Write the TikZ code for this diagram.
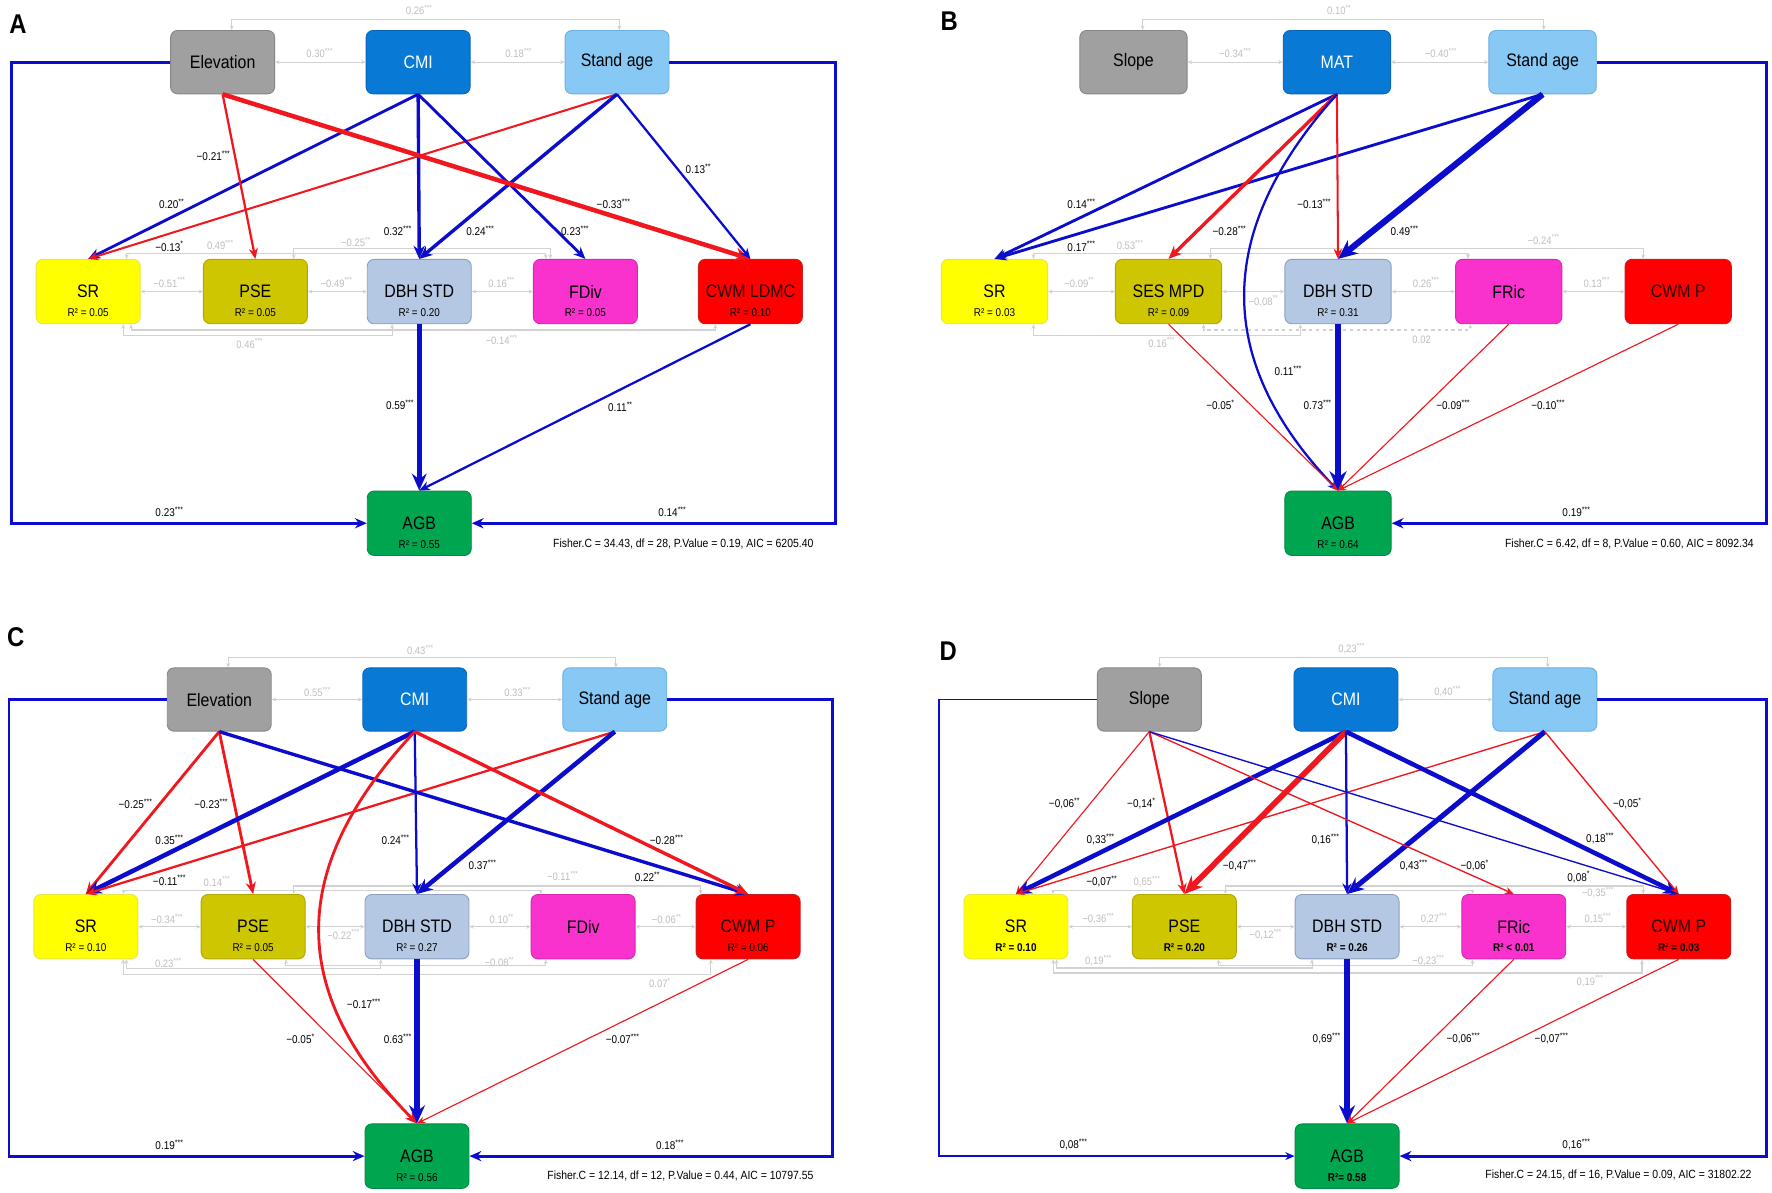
\documentclass[tikz,border=0pt]{standalone}
\usepackage{fontspec}
\setmainfont[FakeStretch=0.88]{Liberation Sans}
\usetikzlibrary{arrows.meta}
\definecolor{pblue}{RGB}{12,12,205}
\definecolor{nred}{RGB}{240,24,30}
\definecolor{lgl}{RGB}{210,210,210}
\definecolor{lgt}{RGB}{190,190,190}
\definecolor{celev}{RGB}{160,160,160}\definecolor{celevd}{RGB}{135,135,135}
\definecolor{ccmi}{RGB}{8,122,214}\definecolor{ccmid}{RGB}{10,100,185}
\definecolor{cage}{RGB}{135,200,245}\definecolor{caged}{RGB}{110,175,225}
\definecolor{csr}{RGB}{255,255,0}\definecolor{csrd}{RGB}{230,230,70}
\definecolor{cpse}{RGB}{206,198,0}\definecolor{cpsed}{RGB}{175,168,0}
\definecolor{cdbh}{RGB}{180,200,228}\definecolor{cdbhd}{RGB}{140,160,190}
\definecolor{cfd}{RGB}{250,50,205}\definecolor{cfdd}{RGB}{215,40,175}
\definecolor{ccwm}{RGB}{255,0,0}\definecolor{ccwmd}{RGB}{200,30,30}
\definecolor{cwmtext}{RGB}{40,0,0}
\definecolor{cagb}{RGB}{0,165,80}\definecolor{cagbd}{RGB}{0,140,70}
\newcommand\sg[1]{\textsuperscript{#1}}
\newcommand\fnm{\fontsize{16}{18}\selectfont}
\newcommand\frs{\fontsize{10}{11}\selectfont}
\newcommand\fcf{\fontsize{10}{11}\selectfont}
\newcommand\fgl{\fontsize{9.5}{10}\selectfont}
\newcommand\ffi{\fontsize{10.5}{11}\selectfont}
\begin{document}
\begin{tikzpicture}[x=1pt,y=-1pt,
 box/.style={rectangle, rounded corners=6pt, minimum width=92pt, minimum height=56pt, inner sep=0pt, font=\fnm, line width=0.8pt},
 mbox/.style={box, minimum height=57pt},
 elev/.style={fill=celev, draw=celevd},
 cmi/.style={fill=ccmi, draw=ccmid, text=white},
 age/.style={fill=cage, draw=caged},
 srb/.style={fill=csr, draw=csrd},
 pseb/.style={fill=cpse, draw=cpsed},
 dbhb/.style={fill=cdbh, draw=cdbhd},
 fdb/.style={fill=cfd, draw=cfdd},
 cwmb/.style={fill=ccwm, draw=ccwmd, text=cwmtext},
 agbb/.style={fill=cagb, draw=cagbd},
 rsq/.style={font=\frs, inner sep=0pt},
 rsqb/.style={font=\frs\bfseries, inner sep=0pt},
 coef/.style={font=\fcf, inner sep=0pt},
 gl/.style={font=\fgl, text=lgt, inner sep=0pt},
 posl/.style={draw=pblue, -{Stealth[length=5pt 2.2, width=4pt 2]}},
 negl/.style={draw=nred, -{Stealth[length=5pt 2.2, width=4pt 2]}},
 cor/.style={draw=lgl, line width=1pt, {Stealth[length=4pt,width=3.5pt]}-{Stealth[length=4pt,width=3.5pt]}},
 panel/.style={font=\fontsize{24}{26}\selectfont\bfseries, inner sep=0pt},
 fish/.style={font=\ffi, inner sep=0pt, anchor=east}
]
\fill[white] (0,0) rectangle (1568,1055);
\useasboundingbox (0,0) rectangle (1568,1055);

% ================= PANEL A =================
\node[panel] (pA) at (16,21) {A};
\node[box,elev] (aE) at (197,55) {Elevation};
\node[box,cmi] (aC) at (370,55) {CMI};
\node[box,age] (aS) at (546,55) {Stand age};
\node[mbox,srb] (aSR) at (78,258) {SR};
\node[mbox,pseb] (aP) at (226,258) {PSE};
\node[mbox,dbhb] (aD) at (371,258) {DBH STD};
\node[mbox,fdb] (aF) at (518,258) {FDiv};
\node[mbox,cwmb] (aW) at (664,258) {CWM LDMC};
\node[mbox,agbb] (aA) at (371,463) {AGB};
\node[rsq] (aSRr) at ([yshift=10pt]aSR.south) {R² = 0.05};
\node[rsq] (aPr) at ([yshift=10pt]aP.south) {R² = 0.05};
\node[rsq] (aDr) at ([yshift=10pt]aD.south) {R² = 0.20};
\node[rsq] (aFr) at ([yshift=10pt]aF.south) {R² = 0.05};
\node[rsq] (aWr) at ([yshift=10pt]aW.south) {R² = 0.10};
\node[rsq] (aAr) at ([yshift=10pt]aA.south) {R² = 0.55};

\draw[cor] (aE.east) -- (aC.west);
\draw[cor] (aC.east) -- (aS.west);
\draw[cor] ([xshift=8pt]aE.north) |- (370,17) -| ([xshift=2pt]aS.north);
\draw[cor] (aSR.east) -- (aP.west);
\draw[cor] (aP.east) -- (aD.west);
\draw[cor] (aD.east) -- (aF.west);
\draw[cor] ([xshift=34pt]aSR.north) |- (300,224) -| ([xshift=-35pt]aF.north);
\draw[cor] ([xshift=34pt]aP.north) |- (380,220) -| ([xshift=-31pt]aF.north);
\draw[cor] ([xshift=31pt]aSR.south) |- (220,297) -| ([xshift=-24pt]aD.south);
\draw[cor] ([xshift=38pt]aSR.south) |- (400,292) -| ([xshift=-31pt]aW.south);

\draw[posl, line width=2.5pt] (aC.south) -- (aSR.north);
\draw[negl, line width=1.8pt] (aS.south) -- (aSR.north);
\draw[negl, line width=2pt] (aE.south) -- (aP.north);
\draw[posl, line width=3pt] (aC.south) -- (aD.north);
\draw[posl, line width=3pt] (aS.south) -- (aD.north);
\draw[posl, line width=2.5pt] (aC.south) -- (aF.north);
\draw[negl, line width=4pt] (aE.south) -- (aW.north);
\draw[posl, line width=2pt] (aS.south) -- (aW.north);
\draw[posl, line width=4.5pt] (aD.south) -- (aA.north);
\draw[posl, line width=2pt] (aW.south) -- (aA.north);
\draw[posl, line width=2.5pt] (aE.west) -- (10,55) -- (10,463) -- (aA.west);
\draw[posl, line width=2.5pt] (aS.east) -- (739,55) -- (739,463) -- (aA.east);

\node[gl] (ag1) at (371,9) {0.26\sg{***}};
\node[gl] (ag2) at (283,47) {0.30\sg{***}};
\node[gl] (ag3) at (459,47) {0.18\sg{***}};
\node[gl] (ag4) at (150,250) {−0.51\sg{***}};
\node[gl] (ag5) at (298,250) {−0.49\sg{***}};
\node[gl] (ag6) at (444,250) {0.16\sg{***}};
\node[gl] (ag7) at (195,217) {0.49\sg{***}};
\node[gl] (ag8) at (315,214) {−0.25\sg{**}};
\node[gl] (ag9) at (221,304) {0.46\sg{***}};
\node[gl] (ag10) at (444,301) {−0.14\sg{***}};

\node[coef] (ac1) at (152,180) {0.20\sg{**}};
\node[coef] (ac2) at (150,218) {−0.13\sg{*}};
\node[coef] (ac3) at (189,138) {−0.21\sg{***}};
\node[coef] (ac4) at (352,204) {0.32\sg{***}};
\node[coef] (ac5) at (425,204) {0.24\sg{***}};
\node[coef] (ac6) at (509,204) {0.23\sg{***}};
\node[coef] (ac7) at (543,180) {−0.33\sg{***}};
\node[coef] (ac8) at (618,149) {0.13\sg{**}};
\node[coef] (ac9) at (354,358) {0.59\sg{***}};
\node[coef] (ac10) at (549,360) {0.11\sg{**}};
\node[coef] (ac11) at (150,453) {0.23\sg{***}};
\node[coef] (ac12) at (595,453) {0.14\sg{***}};
\node[fish] (aFi) at (720,481) {Fisher.C = 34.43, df = 28, P.Value = 0.19, AIC = 6205.40};

% ================= PANEL B =================
\node[panel] (pB) at (840,19) {B};
\node[box,elev,minimum width=95pt] (bS) at (1003,55) {Slope};
\node[box,cmi,minimum width=95pt] (bM) at (1183,55) {MAT};
\node[box,age,minimum width=95pt] (bA) at (1365,55) {Stand age};
\node[mbox,srb,minimum width=94pt] (bSR) at (880,258) {SR};
\node[mbox,pseb,minimum width=94pt] (bP) at (1034,258) {SES MPD};
\node[mbox,dbhb,minimum width=94pt] (bD) at (1184,258) {DBH STD};
\node[mbox,fdb,minimum width=94pt] (bF) at (1335,258) {FRic};
\node[mbox,cwmb,minimum width=94pt] (bW) at (1485,258) {CWM P};
\node[mbox,agbb,minimum width=94pt] (bG) at (1184,463) {AGB};
\node[rsq] (bSRr) at ([yshift=10pt]bSR.south) {R² = 0.03};
\node[rsq] (bPr) at ([yshift=10pt]bP.south) {R² = 0.09};
\node[rsq] (bDr) at ([yshift=10pt]bD.south) {R² = 0.31};
\node[rsq] (bGr) at ([yshift=10pt]bG.south) {R² = 0.64};

\draw[cor] (bS.east) -- (bM.west);
\draw[cor] (bM.east) -- (bA.west);
\draw[cor] ([xshift=8pt]bS.north) |- (1185,17) -| ([xshift=1pt]bA.north);
\draw[cor] (bSR.east) -- (bP.west);
\draw[cor] (bP.east) -- (bD.west);
\draw[cor] (bD.east) -- (bF.west);
\draw[cor] (bF.east) -- (bW.west);
\draw[cor] ([xshift=34.5pt]bSR.north) |- (1100,224) -| ([xshift=-36pt]bF.north);
\draw[cor] ([xshift=37pt]bP.north) |- (1250,220) -| ([xshift=-31pt]bW.north);
\draw[cor] ([xshift=34.5pt]bSR.south) |- (1030,296.5) -| ([xshift=-33.4pt]bD.south);
\draw[cor, dashed] ([xshift=31pt]bP.south) |- (1180,292) -| ([xshift=-34pt]bF.south);

\draw[posl, line width=2.5pt] (bM.south) -- (bSR.north);
\draw[posl, line width=2.5pt] (bA.south) -- (bSR.north);
\draw[negl, line width=3pt] (bM.south) -- (bP.north);
\draw[negl, line width=1.8pt] (bM.south) -- (bD.north);
\draw[posl, line width=5.5pt] (bA.south) -- (bD.north);
\draw[posl, line width=2pt] (bM.south) .. controls (1073,206) and (1075,320) .. (bG.north);
\draw[negl, line width=1pt] (bP.south) -- (bG.north);
\draw[posl, line width=5.5pt] (bD.south) -- (bG.north);
\draw[negl, line width=1pt] (bF.south) -- (bG.north);
\draw[negl, line width=1pt] (bW.south) -- (bG.north);
\draw[posl, line width=2.5pt] (bA.east) -- (1563,55) -- (1563,463) -- (bG.east);

\node[gl] (bg1) at (1185,9) {0.10\sg{**}};
\node[gl] (bg2) at (1093,47) {−0.34\sg{***}};
\node[gl] (bg3) at (1275,47) {−0.40\sg{***}};
\node[gl] (bg4) at (955,250) {−0.09\sg{**}};
\node[gl] (bg5) at (1118,266) {−0.08\sg{**}};
\node[gl] (bg6) at (1262,250) {0.26\sg{***}};
\node[gl] (bg7) at (1413,250) {0.13\sg{***}};
\node[gl] (bg8) at (1000,217) {0.53\sg{***}};
\node[gl] (bg9) at (1366,212) {−0.24\sg{***}};
\node[gl] (bg10) at (1028,303) {0.16\sg{***}};
\node[gl] (bg11) at (1258,301) {0.02};

\node[coef] (bc1) at (957,180) {0.14\sg{***}};
\node[coef] (bc2) at (957,218) {0.17\sg{***}};
\node[coef] (bc3) at (1088,204) {−0.28\sg{***}};
\node[coef] (bc4) at (1163,180) {−0.13\sg{***}};
\node[coef] (bc5) at (1243,204) {0.49\sg{***}};
\node[coef] (bc6) at (1140,328) {0.11\sg{***}};
\node[coef] (bc7) at (1080,358) {−0.05\sg{*}};
\node[coef] (bc8) at (1166,358) {0.73\sg{***}};
\node[coef] (bc9) at (1286,358) {−0.09\sg{***}};
\node[coef] (bc10) at (1370,358) {−0.10\sg{***}};
\node[coef] (bc11) at (1395,453) {0.19\sg{***}};
\node[fish] (bFi) at (1552,481) {Fisher.C = 6.42, df = 8, P.Value = 0.60, AIC = 8092.34};

% ================= PANEL C =================
\node[panel] (pC) at (14,564) {C};
\node[box,elev] (cE) at (194,619) {Elevation};
\node[box,cmi] (cC) at (367,619) {CMI};
\node[box,age] (cS) at (544,619) {Stand age};
\node[mbox,srb] (cSR) at (76,820) {SR};
\node[mbox,pseb] (cP) at (224,820) {PSE};
\node[mbox,dbhb] (cD) at (369,820) {DBH STD};
\node[mbox,fdb] (cF) at (516,820) {FDiv};
\node[mbox,cwmb] (cW) at (662,820) {CWM P};
\node[mbox,agbb] (cA) at (369,1023) {AGB};
\node[rsq] (cSRr) at ([yshift=10pt]cSR.south) {R² = 0.10};
\node[rsq] (cPr) at ([yshift=10pt]cP.south) {R² = 0.05};
\node[rsq] (cDr) at ([yshift=10pt]cD.south) {R² = 0.27};
\node[rsq] (cWr) at ([yshift=10pt]cW.south) {R² = 0.06};
\node[rsq] (cAr) at ([yshift=10pt]cA.south) {R² = 0.56};

\draw[cor] (cE.east) -- (cC.west);
\draw[cor] (cC.east) -- (cS.west);
\draw[cor] ([xshift=8pt]cE.north) |- (370,582) -| ([xshift=1pt]cS.north);
\draw[cor] (cSR.east) -- (cP.west);
\draw[cor] (cP.east) -- (cD.west);
\draw[cor] (cD.east) -- (cF.west);
\draw[cor] (cF.east) -- (cW.west);
\draw[cor] ([xshift=33.4pt]cSR.north) |- (300,787.6) -| ([xshift=-37.5pt]cF.north);
\draw[cor] ([xshift=36pt]cP.north) |- (450,784) -| ([xshift=-42pt]cW.north);
\draw[cor] ([xshift=36pt]cSR.south) |- (220,857) -| ([xshift=-32pt]cD.south);
\draw[cor] ([xshift=29pt]cP.south) |- (380,854) -| ([xshift=-33pt]cF.south);
\draw[cor] ([xshift=33pt]cSR.south) |- (400,862) -| ([xshift=-33pt]cW.south);

\draw[negl, line width=2.5pt] (cE.south) -- (cSR.north);
\draw[negl, line width=2.5pt] (cE.south) -- (cP.north);
\draw[posl, line width=4pt] (cC.south) -- (cSR.north);
\draw[negl, line width=2pt] (cS.south) -- (cSR.north);
\draw[posl, line width=2pt] (cC.south) -- (cD.north);
\draw[posl, line width=4pt] (cS.south) -- (cD.north);
\draw[posl, line width=3pt] (cE.south) -- (cW.north);
\draw[negl, line width=3pt] (cC.south) -- (cW.north);
\draw[negl, line width=2.5pt] (cC.south) .. controls (252,770) and (256,880) .. (cA.north);
\draw[negl, line width=1pt] (cP.south) -- (cA.north);
\draw[posl, line width=5pt] (cD.south) -- (cA.north);
\draw[negl, line width=1pt] (cW.south) -- (cA.north);
\draw[posl, line width=2.5pt] (cE.west) -- (8,619) -- (8,1023) -- (cA.west);
\draw[posl, line width=2.5pt] (cS.east) -- (737,619) -- (737,1023) -- (cA.east);

\node[gl] (cg1) at (372,575) {0.43\sg{***}};
\node[gl] (cg2) at (281,612) {0.55\sg{***}};
\node[gl] (cg3) at (458,612) {0.33\sg{***}};
\node[gl] (cg4) at (148,813) {−0.34\sg{***}};
\node[gl] (cg5) at (304,827) {−0.22\sg{***}};
\node[gl] (cg6) at (444,813) {0.10\sg{**}};
\node[gl] (cg7) at (590,813) {−0.06\sg{**}};
\node[gl] (cg8) at (192,780) {0.14\sg{***}};
\node[gl] (cg9) at (498,775) {−0.11\sg{***}};
\node[gl] (cg10) at (149,852) {0.23\sg{***}};
\node[gl] (cg11) at (442,851) {−0.08\sg{**}};
\node[gl] (cg12) at (584,870) {0.07\sg{*}};

\node[coef] (cc1) at (120,711) {−0.25\sg{***}};
\node[coef] (cc2) at (187,711) {−0.23\sg{***}};
\node[coef] (cc3) at (150,743) {0.35\sg{***}};
\node[coef] (cc4) at (150,779) {−0.11\sg{***}};
\node[coef] (cc5) at (350,743) {0.24\sg{***}};
\node[coef] (cc6) at (427,765) {0.37\sg{***}};
\node[coef] (cc7) at (573,776) {0.22\sg{**}};
\node[coef] (cc8) at (590,743) {−0.28\sg{***}};
\node[coef] (cc9) at (322,888) {−0.17\sg{***}};
\node[coef] (cc10) at (266,919) {−0.05\sg{*}};
\node[coef] (cc11) at (352,919) {0.63\sg{***}};
\node[coef] (cc12) at (551,919) {−0.07\sg{***}};
\node[coef] (cc13) at (150,1013) {0.19\sg{***}};
\node[coef] (cc14) at (593,1013) {0.18\sg{***}};
\node[fish] (cFi) at (720,1041) {Fisher.C = 12.14, df = 12, P.Value = 0.44, AIC = 10797.55};

% ================= PANEL D =================
\node[panel] (pD) at (839,576) {D};
\node[box,elev] (dS) at (1017,619) {Slope};
\node[box,cmi] (dC) at (1191,619) {CMI};
\node[box,age] (dA) at (1367,619) {Stand age};
\node[mbox,srb] (dSR) at (899,820) {SR};
\node[mbox,pseb] (dP) at (1048,820) {PSE};
\node[mbox,dbhb] (dD) at (1192,820) {DBH STD};
\node[mbox,fdb] (dF) at (1339.5,820) {FRic};
\node[mbox,cwmb] (dW) at (1485.5,820) {CWM P};
\node[mbox,agbb] (dG) at (1192,1023) {AGB};
\node[rsqb] (dSRr) at ([yshift=10pt]dSR.south) {R² = 0.10};
\node[rsqb] (dPr) at ([yshift=10pt]dP.south) {R² = 0.20};
\node[rsqb] (dDr) at ([yshift=10pt]dD.south) {R² = 0.26};
\node[rsqb] (dFr) at ([yshift=10pt]dF.south) {R² < 0.01};
\node[rsqb] (dWr) at ([yshift=10pt]dW.south) {R² = 0.03};
\node[rsqb] (dGr) at ([yshift=10pt]dG.south) {R²= 0.58};

\draw[cor] (dC.east) -- (dA.west);
\draw[cor] ([xshift=9pt]dS.north) |- (1195,582) -| ([xshift=2.5pt]dA.north);
\draw[cor] (dSR.east) -- (dP.west);
\draw[cor] (dP.east) -- (dD.west);
\draw[cor] (dD.east) -- (dF.west);
\draw[cor] (dF.east) -- (dW.west);
\draw[cor] ([xshift=32.7pt]dSR.north) |- (1100,787.6) -| ([xshift=-36.5pt]dF.north);
\draw[cor] ([xshift=36.4pt]dP.north) |- (1250,784) -| ([xshift=-31.5pt]dW.north);
\draw[cor] ([xshift=36pt]dSR.south) |- (1050,856.6) -| ([xshift=-31pt]dD.south);
\draw[cor] ([xshift=30.4pt]dP.south) |- (1200,854) -| ([xshift=-36.5pt]dF.south);
\draw[cor] ([xshift=33pt]dSR.south) |- (1200,861) -| ([xshift=-32.5pt]dW.south);

\draw[negl, line width=1pt] (dS.south) -- (dSR.north);
\draw[negl, line width=2pt] (dS.south) -- (dP.north);
\draw[posl, line width=4pt] (dC.south) -- (dSR.north);
\draw[negl, line width=1.2pt] (dA.south) -- (dSR.north);
\draw[negl, line width=5pt] (dC.south) -- (dP.north);
\draw[posl, line width=2pt] (dC.south) -- (dD.north);
\draw[posl, line width=4.5pt] (dA.south) -- (dD.north);
\draw[negl, line width=1.2pt] (dS.south) -- (dF.north);
\draw[posl, line width=1.2pt] (dS.south) -- (dW.north);
\draw[posl, line width=4pt] (dC.south) -- (dW.north);
\draw[negl, line width=1.2pt] (dA.south) -- (dW.north);
\draw[posl, line width=5pt] (dD.south) -- (dG.north);
\draw[negl, line width=1pt] (dF.south) -- (dG.north);
\draw[negl, line width=1pt] (dW.south) -- (dG.north);
\draw[posl, line width=1.5pt] (dS.west) -- (831,619) -- (831,1023) -- (dG.west);
\draw[posl, line width=2.5pt] (dA.east) -- (1563,619) -- (1563,1023) -- (dG.east);

\node[gl] (dg1) at (1196,574) {0,23\sg{***}};
\node[gl] (dg2) at (1281,612) {0,40\sg{***}};
\node[gl] (dg3) at (972,813) {−0,36\sg{***}};
\node[gl] (dg4) at (1120,827) {−0,12\sg{***}};
\node[gl] (dg5) at (1269,813) {0,27\sg{***}};
\node[gl] (dg6) at (1414,813) {0,15\sg{***}};
\node[gl] (dg7) at (1015,780) {0,65\sg{***}};
\node[gl] (dg8) at (1414,790) {−0,35\sg{***}};
\node[gl] (dg9) at (972,850) {0,19\sg{***}};
\node[gl] (dg10) at (1264,850) {−0,23\sg{***}};
\node[gl] (dg11) at (1407,868) {0,19\sg{***}};

\node[coef] (dc1) at (942,711) {−0,06\sg{**}};
\node[coef] (dc2) at (1010,711) {−0,14\sg{*}};
\node[coef] (dc3) at (974,743) {0,33\sg{***}};
\node[coef] (dc4) at (975,780) {−0,07\sg{**}};
\node[coef] (dc5) at (1097,766) {−0,47\sg{***}};
\node[coef] (dc6) at (1173,743) {0,16\sg{***}};
\node[coef] (dc7) at (1251,766) {0,43\sg{***}};
\node[coef] (dc8) at (1305,766) {−0,06\sg{*}};
\node[coef] (dc9) at (1397,776) {0,08\sg{*}};
\node[coef] (dc10) at (1416,742) {0,18\sg{***}};
\node[coef] (dc11) at (1440,711) {−0,05\sg{*}};
\node[coef] (dc12) at (1174,919) {0,69\sg{***}};
\node[coef] (dc13) at (1295,919) {−0,06\sg{***}};
\node[coef] (dc14) at (1373,919) {−0,07\sg{***}};
\node[coef] (dc15) at (950,1013) {0,08\sg{***}};
\node[coef] (dc16) at (1395,1013) {0,16\sg{***}};
\node[fish] (dFi) at (1550,1040) {Fisher.C = 24.15, df = 16, P.Value = 0.09, AIC = 31802.22};
\end{tikzpicture}
\end{document}
